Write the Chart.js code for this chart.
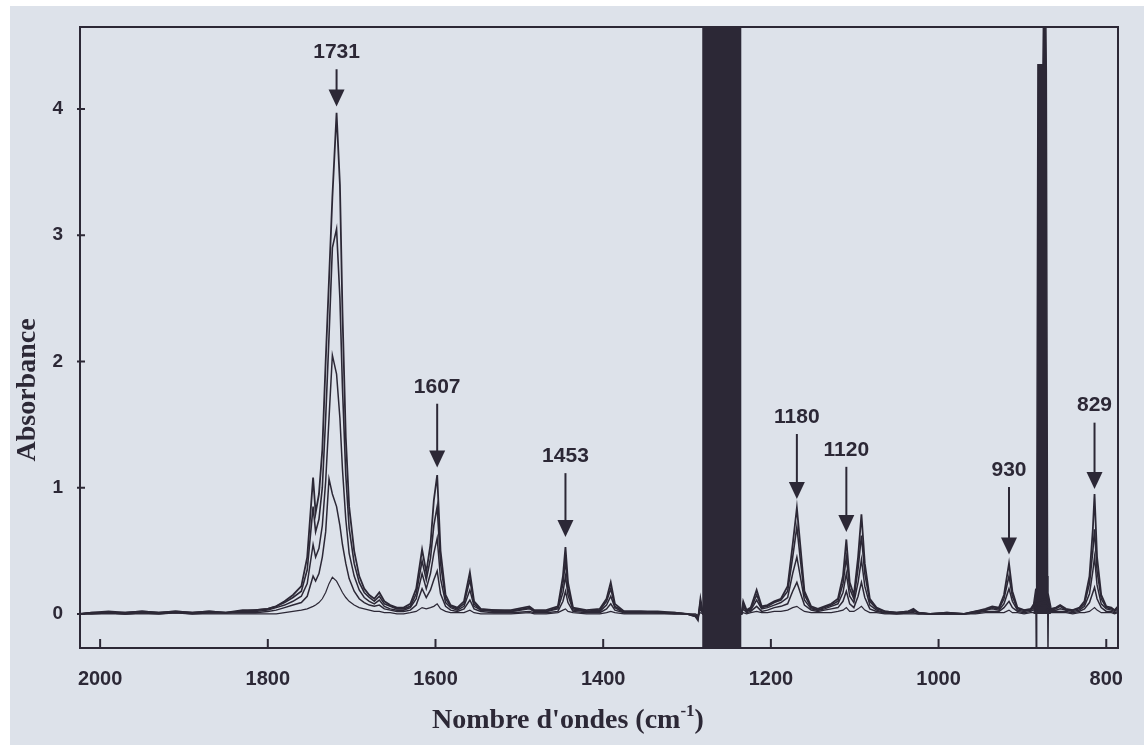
<!doctype html>
<html>
<head>
<meta charset="utf-8">
<script src="https://cdn.jsdelivr.net/npm/chart.js@4.4.0/dist/chart.umd.min.js"></script>
<style>
body { margin: 0; background: #ffffff; }
canvas { display: block; }
</style>
</head>
<body>
<canvas id="spectre" width="1144" height="745"></canvas>
<script>
// nombres d'onde (cm-1), communs aux 5 spectres
var wavenumbers = [2024,2010,1990,1970,1950,1930,1910,1890,1870,1850,
  1830,1815,1800,1790,1780,1770,1760,1753,1746,1743,
  1739,1735,1731,1727,1723,1718,1714,1711,1707,1703,
  1697,1691,1685,1679,1673,1667,1661,1654,1646,1638,
  1630,1623,1616,1611,1606,1602,1598,1594,1588,1582,
  1574,1566,1559,1554,1546,1530,1510,1488,1482,1468,
  1454,1448,1445,1442,1436,1420,1404,1396,1391,1386,
  1375,1355,1335,1315,1300,1290,1287,1284,1281,1235,
  1233,1229,1224,1217,1211,1204,1196,1188,1180,1174,
  1169,1165,1160,1152,1144,1136,1128,1120,1114,1110,
  1106,1101,1096,1092,1088,1082,1074,1064,1050,1036,
  1030,1024,1010,990,970,956,944,936,928,922,
  916,912,906,898,890,884,872,866,860,855,
  848,840,832,826,820,816,814,811,806,800,
  794,790,786];

var abs5 = [0.00,0.01,0.02,0.01,0.02,0.01,0.02,0.01,0.02,0.01,
  0.03,0.03,0.04,0.06,0.10,0.15,0.22,0.45,1.08,0.80,
  0.95,1.30,2.00,2.65,3.30,3.97,3.40,2.40,1.40,0.85,
  0.50,0.30,0.20,0.15,0.12,0.17,0.10,0.07,0.05,0.05,
  0.08,0.20,0.51,0.33,0.55,0.90,1.10,0.50,0.15,0.07,
  0.05,0.10,0.33,0.10,0.04,0.03,0.03,0.06,0.03,0.03,
  0.06,0.30,0.53,0.25,0.05,0.03,0.04,0.12,0.25,0.08,
  0.02,0.02,0.02,0.01,0.00,-0.02,-0.05,0.12,0.00,0.00,
  0.10,0.03,0.05,0.19,0.06,0.07,0.10,0.12,0.22,0.55,
  0.84,0.55,0.18,0.06,0.04,0.06,0.08,0.12,0.30,0.59,
  0.25,0.15,0.45,0.79,0.40,0.12,0.05,0.02,0.01,0.02,
  0.04,0.01,0.00,0.01,0.00,0.02,0.04,0.06,0.05,0.15,
  0.40,0.18,0.05,0.03,0.04,0.10,0.12,0.04,0.05,0.07,
  0.04,0.03,0.05,0.10,0.30,0.67,0.95,0.45,0.15,0.06,
  0.05,0.03,0.06];

var abs4 = [0.00,0.01,0.01,0.01,0.02,0.01,0.02,0.01,0.02,0.01,
  0.02,0.03,0.04,0.06,0.09,0.13,0.18,0.35,0.85,0.65,
  0.75,1.00,1.55,2.20,2.90,3.05,2.50,1.80,1.10,0.68,
  0.40,0.25,0.17,0.13,0.10,0.14,0.08,0.06,0.04,0.04,
  0.06,0.16,0.42,0.27,0.44,0.70,0.85,0.40,0.12,0.06,
  0.04,0.08,0.27,0.08,0.03,0.03,0.02,0.05,0.02,0.02,
  0.05,0.24,0.42,0.20,0.04,0.02,0.03,0.10,0.20,0.06,
  0.02,0.02,0.01,0.01,0.00,-0.02,-0.04,0.10,0.00,0.00,
  0.08,0.02,0.04,0.15,0.05,0.06,0.09,0.11,0.18,0.45,
  0.69,0.44,0.15,0.05,0.03,0.05,0.07,0.10,0.24,0.45,
  0.20,0.12,0.36,0.62,0.32,0.10,0.04,0.02,0.01,0.02,
  0.03,0.01,0.00,0.01,0.00,0.02,0.03,0.05,0.04,0.12,
  0.30,0.14,0.04,0.03,0.03,0.08,0.10,0.03,0.04,0.06,
  0.03,0.03,0.04,0.08,0.24,0.50,0.67,0.34,0.12,0.05,
  0.04,0.03,0.05];

var abs3 = [0.00,0.01,0.01,0.00,0.01,0.01,0.01,0.01,0.01,0.01,
  0.02,0.02,0.03,0.05,0.07,0.10,0.14,0.24,0.55,0.45,
  0.52,0.70,1.05,1.55,2.05,1.90,1.55,1.15,0.75,0.48,
  0.30,0.19,0.13,0.10,0.08,0.11,0.06,0.04,0.03,0.03,
  0.05,0.12,0.32,0.20,0.32,0.48,0.60,0.28,0.09,0.05,
  0.03,0.06,0.19,0.06,0.03,0.02,0.02,0.04,0.02,0.02,
  0.04,0.17,0.30,0.15,0.03,0.02,0.02,0.07,0.14,0.05,
  0.01,0.01,0.01,0.01,0.00,-0.01,-0.03,0.07,0.00,0.00,
  0.06,0.02,0.03,0.11,0.04,0.05,0.07,0.09,0.13,0.32,
  0.45,0.30,0.11,0.04,0.03,0.04,0.06,0.08,0.17,0.32,
  0.14,0.09,0.25,0.43,0.22,0.07,0.03,0.01,0.01,0.01,
  0.02,0.01,0.00,0.00,0.00,0.01,0.03,0.04,0.03,0.08,
  0.20,0.10,0.03,0.02,0.03,0.06,0.07,0.03,0.03,0.04,
  0.03,0.02,0.03,0.06,0.16,0.34,0.45,0.23,0.08,0.04,
  0.03,0.02,0.04];

var abs2 = [0.00,0.00,0.01,0.00,0.01,0.00,0.01,0.00,0.01,0.01,
  0.01,0.01,0.02,0.03,0.05,0.07,0.09,0.14,0.30,0.26,
  0.32,0.45,0.65,1.07,0.95,0.85,0.70,0.55,0.40,0.28,
  0.18,0.12,0.09,0.07,0.06,0.07,0.04,0.03,0.02,0.02,
  0.03,0.07,0.20,0.13,0.19,0.27,0.34,0.16,0.06,0.03,
  0.02,0.04,0.11,0.04,0.02,0.01,0.01,0.02,0.01,0.01,
  0.02,0.10,0.18,0.09,0.02,0.01,0.01,0.04,0.08,0.03,
  0.01,0.01,0.01,0.00,0.00,-0.01,-0.02,0.04,0.00,0.00,
  0.04,0.01,0.02,0.06,0.02,0.03,0.05,0.06,0.08,0.18,
  0.25,0.17,0.07,0.03,0.02,0.03,0.04,0.05,0.10,0.18,
  0.08,0.05,0.14,0.25,0.13,0.04,0.02,0.01,0.00,0.01,
  0.01,0.00,0.00,0.00,0.00,0.01,0.02,0.02,0.02,0.05,
  0.10,0.05,0.02,0.01,0.02,0.04,0.04,0.02,0.02,0.02,
  0.02,0.01,0.02,0.04,0.09,0.17,0.21,0.12,0.05,0.02,
  0.02,0.01,0.02];

var abs1 = [0.00,0.00,0.00,0.00,0.00,0.00,0.01,0.00,0.00,0.00,
  0.00,0.00,0.00,0.00,0.01,0.02,0.03,0.04,0.06,0.07,
  0.09,0.12,0.17,0.24,0.29,0.26,0.21,0.17,0.13,0.10,
  0.07,0.05,0.04,0.03,0.02,0.02,0.01,0.01,0.00,0.00,
  0.01,0.02,0.05,0.04,0.05,0.06,0.08,0.04,0.02,0.01,
  0.01,0.01,0.03,0.01,0.00,0.00,0.00,0.01,0.00,0.00,
  0.01,0.03,0.04,0.02,0.01,0.00,0.00,0.01,0.02,0.01,
  0.00,0.00,0.00,0.00,0.00,0.00,-0.01,0.01,0.00,0.00,
  0.01,0.00,0.01,0.02,0.01,0.01,0.02,0.02,0.03,0.05,
  0.06,0.04,0.02,0.01,0.01,0.01,0.01,0.02,0.03,0.05,
  0.02,0.02,0.04,0.06,0.03,0.01,0.01,0.00,0.00,0.00,
  0.00,0.00,0.00,0.00,0.00,0.00,0.01,0.01,0.01,0.01,
  0.03,0.01,0.01,0.00,0.01,0.01,0.01,0.01,0.01,0.01,
  0.01,0.00,0.01,0.01,0.02,0.04,0.05,0.03,0.01,0.01,
  0.01,0.00,0.01];

// zone saturee (bande noire) et pic etroit vers 878
var bandWn = [1282, 1235];
var bandAbs = [4.65, 4.65];
var spikeWn = [887, 884, 883.5, 883, 881.5, 875.5, 875, 872, 871.5, 870, 869.5, 869, 866];
var spikeAbs = [0.06, 0.20, -0.27, 0.30, 4.35, 4.35, 4.65, 4.65, 4.30, 0.30, -0.27, 0.15, 0.05];

var xTicks = [2000, 1800, 1600, 1400, 1200, 1000, 800];
var yTicks = [0, 1, 2, 3, 4];

// annotations des pics
var peakLabels = ['1731', '1607', '1453', '1180', '1120', '930', '829'];
var peakWn = [1718, 1598, 1445, 1169, 1110, 916, 814];
var peakTip = [4.02, 1.16, 0.61, 0.91, 0.65, 0.47, 0.99];
var peakText = [4.45, 1.80, 1.25, 1.56, 1.30, 1.14, 1.65];

var ink = '#2c2836';

function toPoints(xs, ys) {
  return xs.map(function(x, i) { return {x: x, y: ys[i]}; });
}

function spectrum(ys, w) {
  return {
    data: toPoints(wavenumbers, ys),
    showLine: true,
    borderColor: ink,
    borderWidth: w,
    pointRadius: 0,
    tension: 0,
    fill: false
  };
}

var decor = {
  id: 'decor',
  beforeDraw: function(chart) {
    var ctx = chart.ctx;
    ctx.save();
    ctx.fillStyle = '#ffffff';
    ctx.fillRect(0, 0, chart.width, chart.height);
    ctx.fillStyle = '#dde2ea';
    ctx.fillRect(10, 6, chart.width - 10, chart.height - 6);
    ctx.restore();
  },
  afterDraw: function(chart) {
    var ctx = chart.ctx, a = chart.chartArea;
    var xs = chart.scales.x, ys = chart.scales.y;
    ctx.save();
    ctx.strokeStyle = ink;
    ctx.fillStyle = ink;
    ctx.lineWidth = 2;
    ctx.strokeRect(a.left, a.top, a.right - a.left, a.bottom - a.top);

    ctx.beginPath();
    xTicks.forEach(function(v) {
      var px = xs.getPixelForValue(v);
      ctx.moveTo(px, a.bottom);
      ctx.lineTo(px, a.bottom - 9);
    });
    yTicks.forEach(function(v) {
      var py = ys.getPixelForValue(v);
      ctx.moveTo(a.left - 3, py);
      ctx.lineTo(a.left + 5, py);
    });
    ctx.stroke();

    // fleches + etiquettes
    ctx.font = 'bold 21px "Liberation Sans"';
    ctx.textAlign = 'center';
    ctx.textBaseline = 'middle';
    peakLabels.forEach(function(lab, i) {
      var px = xs.getPixelForValue(peakWn[i]);
      var ty = ys.getPixelForValue(peakText[i]);
      var tip = ys.getPixelForValue(peakTip[i]);
      ctx.fillText(lab, px, ty);
      ctx.beginPath();
      ctx.moveTo(px, ty + 17);
      ctx.lineTo(px, tip - 15);
      ctx.stroke();
      ctx.beginPath();
      ctx.moveTo(px - 8, tip - 17);
      ctx.lineTo(px + 8, tip - 17);
      ctx.lineTo(px, tip);
      ctx.closePath();
      ctx.fill();
    });

    // titres des axes
    ctx.font = 'bold 28px "Liberation Serif"';
    ctx.textBaseline = 'alphabetic';
    var t1 = "Nombre d'ondes (cm", t2 = '-1', t3 = ')';
    var w1 = ctx.measureText(t1).width;
    var w3 = ctx.measureText(t3).width;
    ctx.font = 'bold 17px "Liberation Serif"';
    var w2 = ctx.measureText(t2).width;
    var x0 = 568 - (w1 + w2 + w3) / 2, by = 728;
    ctx.textAlign = 'left';
    ctx.font = 'bold 28px "Liberation Serif"';
    ctx.fillText(t1, x0, by);
    ctx.fillText(t3, x0 + w1 + w2, by);
    ctx.font = 'bold 17px "Liberation Serif"';
    ctx.fillText(t2, x0 + w1, by - 12);

    ctx.translate(28, 390);
    ctx.rotate(-Math.PI / 2);
    ctx.font = 'bold 28px "Liberation Serif"';
    ctx.textAlign = 'center';
    ctx.textBaseline = 'middle';
    ctx.fillText('Absorbance', 0, 0);
    ctx.restore();
  }
};

var config = {
  type: 'scatter',
  data: {
    datasets: [
      spectrum(abs1, 1.2),
      spectrum(abs2, 1.5),
      spectrum(abs3, 1.5),
      spectrum(abs4, 1.6),
      spectrum(abs5, 1.8),
      {
        data: toPoints(bandWn, bandAbs),
        showLine: true,
        borderColor: ink,
        borderWidth: 1,
        backgroundColor: ink,
        pointRadius: 0,
        fill: {value: -0.27}
      },
      {
        data: toPoints(spikeWn, spikeAbs),
        showLine: true,
        borderColor: ink,
        borderWidth: 1.5,
        backgroundColor: ink,
        pointRadius: 0,
        fill: 'origin'
      }
    ]
  },
  options: {
    responsive: false,
    animation: false,
    layout: { padding: { top: 27, right: 26, left: 0, bottom: 0 } },
    plugins: {
      legend: { display: false },
      tooltip: { enabled: false }
    },
    scales: {
      x: {
        type: 'linear',
        reverse: true,
        min: 786,
        max: 2024,
        afterFit: function(s) { s.height = 97; },
        afterBuildTicks: function(s) { s.ticks = xTicks.map(function(v) { return {value: v}; }); },
        grid: { display: false },
        border: { display: false },
        ticks: {
          color: ink,
          padding: 11,
          maxRotation: 0,
          callback: function(v) { return String(v); },
          font: { family: 'Liberation Sans', weight: 'bold', size: 20 }
        }
      },
      y: {
        type: 'linear',
        min: -0.27,
        max: 4.65,
        afterFit: function(s) { s.width = 80; },
        afterBuildTicks: function(s) { s.ticks = yTicks.map(function(v) { return {value: v}; }); },
        grid: { display: false },
        border: { display: false },
        ticks: {
          color: ink,
          padding: 9,
          callback: function(v) { return String(v); },
          font: { family: 'Liberation Sans', weight: 'bold', size: 19 }
        }
      }
    }
  },
  plugins: [decor]
};

window.onload = function() {
  var ctx = document.getElementById('spectre').getContext('2d');
  window.spectreChart = new Chart(ctx, config);
};
</script>
</body>
</html>
